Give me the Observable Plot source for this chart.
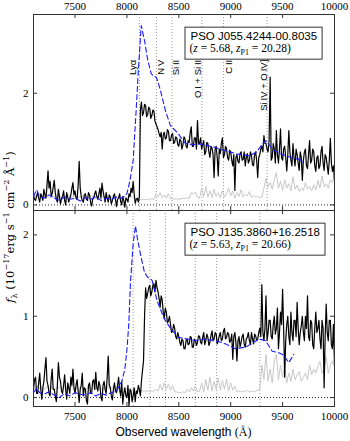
<!DOCTYPE html>
<html><head><meta charset="utf-8">
<script src="https://cdn.jsdelivr.net/npm/d3@7"></script>
<script src="https://cdn.jsdelivr.net/npm/@observablehq/plot@0.6"></script>
<style>
html,body{margin:0;padding:0;background:#fff;}
#wrap{position:relative;width:350px;height:441px;overflow:hidden;background:#fff;}
#wrap svg{position:absolute;left:0;overflow:visible;}
.ylab{position:absolute;left:11px;top:226.5px;transform:translate(-50%,-50%) rotate(-90deg);white-space:nowrap;font-family:"DejaVu Serif",serif;font-size:11.5px;line-height:1;}
.ylab sup,.ylab sub{font-size:70%;}
.xlab{position:absolute;left:183.5px;top:432px;transform:translate(-50%,-50%);white-space:nowrap;font-family:"Liberation Sans",sans-serif;font-size:12px;line-height:1;}
.xlab span{font-family:"Liberation Serif",serif;}
</style></head><body><div id="wrap"></div><script>
// ---------------- DATA ----------------
// 10 A sampling grid of the observed spectra
const wave10 = [
7100,7110,7120,7130,7140,7150,7160,7170,7180,7190,7200,7210,7220,7230,7240,7250,7260,7270,7280,7290,
7300,7310,7320,7330,7340,7350,7360,7370,7380,7390,7400,7410,7420,7430,7440,7450,7460,7470,7480,7490,
7500,7510,7520,7530,7540,7550,7560,7570,7580,7590,7600,7610,7620,7630,7640,7650,7660,7670,7680,7690,
7700,7710,7720,7730,7740,7750,7760,7770,7780,7790,7800,7810,7820,7830,7840,7850,7860,7870,7880,7890,
7900,7910,7920,7930,7940,7950,7960,7970,7980,7990,8000,8010,8020,8030,8040,8050,8060,8070,8080,8090,
8100,8110,8120,8130,8140,8150,8160,8170,8180,8190,8200,8210,8220,8230,8240,8250,8260,8270,8280,8290,
8300,8310,8320,8330,8340,8350,8360,8370,8380,8390,8400,8410,8420,8430,8440,8450,8460,8470,8480,8490,
8500,8510,8520,8530,8540,8550,8560,8570,8580,8590,8600,8610,8620,8630,8640,8650,8660,8670,8680,8690,
8700,8710,8720,8730,8740,8750,8760,8770,8780,8790,8800,8810,8820,8830,8840,8850,8860,8870,8880,8890,
8900,8910,8920,8930,8940,8950,8960,8970,8980,8990,9000,9010,9020,9030,9040,9050,9060,9070,9080,9090,
9100,9110,9120,9130,9140,9150,9160,9170,9180,9190,9200,9210,9220,9230,9240,9250,9260,9270,9280,9290,
9300,9310,9320,9330,9340,9350,9360,9370,9380,9390,9400,9410,9420,9430,9440,9450,9460,9470,9480,9490,
9500,9510,9520,9530,9540,9550,9560,9570,9580,9590,9600,9610,9620,9630,9640,9650,9660,9670,9680,9690,
9700,9710,9720,9730,9740,9750,9760,9770,9780,9790,9800,9810,9820,9830,9840,9850,9860,9870,9880,9890,
9900,9910,9920,9930,9940,9950,9960,9970,9980,9990,10000];
// 20 A sampling grid of the noise spectra
const wave20 = [
7100,7120,7140,7160,7180,7200,7220,7240,7260,7280,
7300,7320,7340,7360,7380,7400,7420,7440,7460,7480,
7500,7520,7540,7560,7580,7600,7620,7640,7660,7680,
7700,7720,7740,7760,7780,7800,7820,7840,7860,7880,
7900,7920,7940,7960,7980,8000,8020,8040,8060,8080,
8100,8120,8140,8160,8180,8200,8220,8240,8260,8280,
8300,8320,8340,8360,8380,8400,8420,8440,8460,8480,
8500,8520,8540,8560,8580,8600,8620,8640,8660,8680,
8700,8720,8740,8760,8780,8800,8820,8840,8860,8880,
8900,8920,8940,8960,8980,9000,9020,9040,9060,9080,
9100,9120,9140,9160,9180,9200,9220,9240,9260,9280,
9300,9320,9340,9360,9380,9400,9420,9440,9460,9480,
9500,9520,9540,9560,9580,9600,9620,9640,9660,9680,
9700,9720,9740,9760,9780,9800,9820,9840,9860,9880,
9900,9920,9940,9960,9980,10000];

// PSO J055.4244-00.8035 : observed flux (10 A)
const fluxTop = [
0.18,0.10,0.08,0.16,0.22,0.12,0.05,0.20,0.15,0.08,0.28,0.18,0.12,0.35,0.61,0.30,0.42,0.15,0.20,0.32,
0.44,0.22,0.10,0.05,0.28,0.15,0.02,0.12,0.15,0.25,0.08,0.00,0.22,0.14,0.05,0.12,0.18,0.30,0.40,0.18,
0.25,0.12,0.10,0.35,0.78,0.30,0.15,0.08,0.05,0.18,0.20,0.10,0.08,0.22,0.18,0.05,-0.02,0.10,0.12,0.20,
0.25,0.15,0.10,0.20,0.30,0.12,0.39,0.25,0.15,0.05,0.22,0.12,0.05,0.18,0.14,0.02,0.08,0.15,0.20,0.10,
-0.03,0.10,0.12,0.20,0.06,0.00,0.15,0.08,-0.04,0.12,0.10,0.05,0.20,0.15,0.30,0.22,0.42,0.20,0.03,0.10,
0.12,0.05,0.15,1.70,1.84,1.60,1.65,1.80,1.78,1.58,1.62,1.75,1.72,1.55,1.60,1.70,1.68,1.50,1.45,1.40,
1.35,1.28,1.22,1.30,1.00,1.25,1.30,1.18,1.20,1.35,1.32,1.15,1.15,1.25,1.28,1.10,1.12,1.22,1.20,1.08,
1.05,1.18,1.15,1.00,1.08,1.22,1.18,1.05,1.02,1.15,1.12,1.30,1.40,1.05,1.05,1.20,1.20,1.00,1.51,1.10,
1.10,1.20,1.00,1.08,1.15,0.90,0.95,1.12,1.10,0.95,0.85,1.05,1.02,0.90,0.49,1.00,1.05,0.85,0.52,1.00,
0.92,1.10,1.20,0.85,0.90,1.05,1.00,0.85,0.80,0.98,0.95,0.80,0.70,0.90,0.26,0.85,0.90,0.78,0.75,0.92,
0.95,0.80,0.82,0.95,0.70,0.85,0.92,0.75,0.80,0.95,0.88,0.72,0.70,0.90,0.95,0.80,0.49,0.85,0.90,1.00,
1.05,0.95,1.24,1.10,1.10,1.00,0.95,1.15,2.29,0.80,0.85,1.10,1.00,0.75,1.33,0.90,0.75,1.00,1.36,0.85,
0.80,1.00,1.05,0.85,0.61,0.90,1.33,0.95,0.80,0.70,1.10,0.85,0.70,1.00,0.90,0.75,0.62,0.95,0.85,0.44,
0.79,0.95,1.00,0.70,0.65,0.90,1.15,0.75,0.80,1.00,0.95,0.70,0.60,0.85,0.88,0.65,0.70,0.95,1.05,0.75,
0.62,0.90,0.85,0.70,0.55,0.80,1.19,0.75,0.60,0.70,0.44];
// PSO J055.4244-00.8035 : noise (20 A)
const noiseTop = [
0.15,0.12,0.18,0.14,0.16,0.13,0.17,0.15,0.12,0.16,
0.14,0.17,0.13,0.15,0.12,0.16,0.14,0.18,0.13,0.15,
0.16,0.13,0.15,0.12,0.17,0.14,0.15,0.13,0.16,0.14,
0.12,0.15,0.14,0.17,0.13,0.15,0.12,0.14,0.16,0.13,
0.15,0.12,0.14,0.13,0.15,0.12,0.14,0.16,0.13,0.11,
0.10,0.10,0.10,0.10,0.10,0.10,0.10,0.11,0.10,0.20,
0.14,0.22,0.13,0.18,0.12,0.20,0.11,0.11,0.10,0.11,
0.10,0.11,0.12,0.11,0.13,0.12,0.22,0.20,0.23,0.14,
0.12,0.30,0.15,0.33,0.14,0.25,0.13,0.28,0.15,0.22,
0.13,0.26,0.14,0.20,0.30,0.16,0.25,0.12,0.22,0.15,
0.27,0.14,0.20,0.16,0.24,0.13,0.17,0.14,0.15,0.13,
0.14,0.30,0.48,0.32,0.40,0.28,0.45,0.58,0.30,0.42,
0.26,0.45,0.30,0.38,0.25,0.50,0.28,0.35,0.24,0.30,
0.26,0.40,0.28,0.33,0.25,0.36,0.27,0.44,0.30,0.52,
0.32,0.38,0.30,0.45,0.40,0.55];
// PSO J055.4244-00.8035 : composite template
const tmplTopWave = [7100,7130,7160,7200,7250,7300,7350,7400,7450,7500,7550,7600,7650,7700,7750,7800,7850,7900,7950,8000,8030,8060,8087,8110,8138,8170,8200,8234,8260,8281,8300,8323,8371,8419,8484,8564,8640,8725,8800,8853,8930,9014,9058,9120,9183,9250,9318,9335,9360,9400,9460,9528,9600,9650,9689,9701];
const tmplTopFlux = [0.15,0.27,0.15,0.12,0.18,0.12,0.08,0.14,0.10,0.12,0.07,0.13,0.10,0.15,0.08,0.12,0.10,0.14,0.12,0.20,0.44,0.79,1.63,2.40,3.21,2.94,2.60,2.35,2.30,2.29,2.20,2.05,1.69,1.42,1.30,1.10,1.08,1.09,1.05,1.03,0.98,0.94,0.91,0.90,0.88,0.95,1.12,1.15,1.10,1.00,0.93,0.88,0.84,0.82,0.79,0.74];

// PSO J135.3860+16.2518 : observed flux (10 A)
const fluxBot = [
0.10,0.22,0.25,0.05,0.05,0.18,0.30,0.10,-0.02,0.12,0.20,0.35,0.49,0.20,0.15,0.05,0.02,0.22,0.35,0.10,
0.10,0.02,-0.05,0.15,0.43,0.25,0.20,0.08,0.05,0.15,0.28,0.10,-0.02,0.18,0.12,0.05,0.25,0.15,0.35,0.12,
0.05,0.15,0.22,0.08,-0.06,0.10,0.15,0.30,0.02,0.12,0.10,-0.04,-0.08,0.15,0.18,0.05,0.05,0.20,0.22,0.10,
0.31,0.12,0.08,0.20,0.15,0.00,-0.04,0.15,0.20,0.10,0.05,0.25,0.51,0.15,0.12,0.02,-0.03,0.10,0.18,0.08,
0.06,0.15,0.25,0.10,0.02,0.20,-0.08,0.05,0.12,0.02,0.00,0.15,-0.10,0.10,0.08,-0.05,0.02,0.12,-0.05,0.08,
0.05,0.15,0.10,0.02,0.20,0.33,0.45,1.00,1.35,1.22,1.28,1.35,1.38,1.25,1.30,1.38,1.40,1.30,1.44,1.35,
1.30,1.22,1.11,1.25,1.20,1.05,0.98,1.10,1.05,0.92,0.94,1.00,0.90,0.80,0.82,0.90,0.85,0.75,0.72,0.80,
0.75,0.68,0.64,0.72,0.70,0.60,0.60,0.70,0.72,0.65,0.66,0.75,0.74,0.62,0.62,0.72,0.70,0.64,0.68,0.76,
0.75,0.68,0.66,0.74,0.80,0.65,0.70,0.78,0.74,0.64,0.68,0.76,0.82,0.70,0.72,0.80,0.78,0.66,0.70,0.76,
0.80,0.70,0.72,0.82,0.85,0.72,0.74,0.80,0.78,0.68,0.70,0.78,0.47,0.75,0.80,0.68,0.45,0.70,0.75,0.62,
0.68,0.75,0.78,0.66,0.62,0.72,0.74,0.80,0.70,0.65,0.80,0.72,0.66,0.78,0.76,0.70,0.72,0.80,0.85,0.75,
1.39,0.80,0.70,0.85,1.25,0.70,0.80,0.95,0.95,0.75,0.72,0.90,1.00,0.78,0.85,1.10,0.60,0.80,1.05,0.90,
1.33,0.85,0.25,0.70,0.90,1.00,0.75,0.65,1.05,0.80,0.70,0.95,0.95,0.75,1.17,0.85,0.65,0.80,0.88,1.00,
0.80,0.70,1.00,0.85,1.25,0.75,0.70,0.95,0.92,0.65,0.60,0.85,1.05,0.80,0.85,0.95,0.72,0.60,0.95,0.85,
0.12,0.75,1.15,0.80,0.70,0.95,0.95,0.65,0.60,0.90,0.40];
// PSO J135.3860+16.2518 : noise (20 A)
const noiseBot = [
0.12,0.10,0.14,0.11,0.13,0.10,0.12,0.14,0.11,0.13,
0.10,0.12,0.11,0.14,0.10,0.13,0.12,0.10,0.14,0.11,
0.13,0.10,0.12,0.11,0.14,0.10,0.12,0.13,0.11,0.12,
0.10,0.13,0.11,0.12,0.10,0.14,0.11,0.12,0.13,0.10,
0.12,0.11,0.13,0.10,0.12,0.11,0.10,0.11,0.10,0.10,
0.08,0.08,0.08,0.08,0.08,0.08,0.08,0.08,0.08,0.10,
0.08,0.16,0.09,0.18,0.10,0.17,0.09,0.15,0.07,0.07,
0.06,0.06,0.07,0.06,0.10,0.07,0.12,0.08,0.14,0.07,
0.08,0.18,0.07,0.22,0.09,0.25,0.08,0.20,0.10,0.24,
0.09,0.21,0.10,0.23,0.08,0.18,0.09,0.14,0.07,0.08,
0.07,0.08,0.07,0.09,0.07,0.08,0.07,0.08,0.09,0.10,
0.40,0.22,0.53,0.20,0.35,0.18,0.45,0.53,0.22,0.40,
0.25,0.38,0.18,0.30,0.20,0.35,0.22,0.28,0.32,0.20,
0.25,0.30,0.22,0.40,0.28,0.35,0.30,0.38,0.45,0.30,
0.35,0.50,0.30,0.40,0.45,0.38];
// PSO J135.3860+16.2518 : composite template
const tmplBotWave = [7100,7130,7160,7200,7250,7300,7350,7400,7450,7500,7550,7600,7650,7700,7750,7800,7850,7900,7951,7980,7999,8018,8034,8060,8083,8099,8131,8169,8200,8227,8243,8291,8355,8420,8497,8580,8658,8750,8850,8950,9043,9142,9200,9271,9335,9400,9464,9510,9560,9608];
const tmplBotFlux = [0.06,0.11,0.06,0.04,0.07,0.03,0.00,0.05,0.02,0.06,0.04,0.03,0.06,0.02,0.05,0.03,0.06,0.08,0.20,0.35,0.57,0.90,1.41,1.89,2.11,1.97,1.76,1.54,1.48,1.46,1.44,1.19,0.98,0.85,0.74,0.72,0.70,0.72,0.70,0.66,0.60,0.62,0.66,0.72,0.70,0.57,0.55,0.52,0.43,0.53];

const objNames = ["PSO J055.4244-00.8035", "PSO J135.3860+16.2518"];
const objZ = [5.68, 5.63];
const objZP1 = ["20.28", "20.66"];

const lineNames = ["Ly\u03b1", "N\u2009V", "Si\u2009II", "O\u2009I + Si\u2009II", "C\u2009II", "Si\u2009IV + O\u2009IV]"];
const lineRest = [1215.67, 1240.14, 1262.59, 1306.0, 1337.0, 1399.8];

const xTicks = [7500, 8000, 8500, 9000, 9500, 10000];
const yTicksTop = [0, 2];
const yTicksBot = [0, 1, 2];

// ---------------- LAYOUT ----------------
const ML = 33, MR = 16, FW = 350 - ML - MR, FH = 196, TICK = 4;
const LABEL_Y = 2.6;
const labelDx = [-6, 4.5, 3.5, -4.5, 5, -3.5];

function panel({flux, noise, tW, tF, idx, yDomain, yTicks, top}) {
  const z = objZ[idx];
  const spec = wave10.map((w, i) => ({w, f: flux[i]}));
  const err = wave20.map((w, i) => ({w, f: noise[i]}));
  const tmpl = tW.map((w, i) => ({w, f: tF[i]}));
  const lines = lineRest.map((r, i) => ({i, w: r * (1 + z)}));
  const marks = [
    Plot.ruleX(lines, {x: "w", stroke: "#8c8c8c", strokeWidth: 0.9, strokeDasharray: "1,2"}),
    Plot.ruleY([0], {stroke: "#111", strokeWidth: 0.9, strokeDasharray: "1,2"}),
    Plot.line(err, {x: "w", y: "f", stroke: "#c8c8c8", strokeWidth: 1, clip: true}),
    Plot.line(spec, {x: "w", y: "f", stroke: "#000", strokeWidth: 1.2, clip: true}),
    Plot.line(tmpl, {x: "w", y: "f", stroke: "#1a1aff", strokeWidth: 1.1, strokeDasharray: "5,3", clip: true}),
  ];
  if (top) {
    lines.forEach((l, i) => {
      marks.push(Plot.text([l], {x: "w", y: () => LABEL_Y, text: d => lineNames[d.i], rotate: -90, textAnchor: "end", dx: labelDx[i], fontFamily: "Liberation Sans", fontSize: 9.5, fill: "#000"}));
    });
  }
  marks.push(
    Plot.text([objNames[idx]], {frameAnchor: "top-left", dx: 157, dy: 17, text: d => d, textAnchor: "start", fontFamily: "Liberation Sans", fontSize: 11.5, fill: "#000"}),
    Plot.text([`(z = ${z}, zP1 = ${objZP1[idx]})`], {frameAnchor: "top-left", dx: 156, dy: 29.5, text: d => d, textAnchor: "start", fontFamily: "Liberation Serif", fontSize: 11.5, fill: "#000"}),
    // inward ticks
    Plot.ruleX(xTicks, {x: d => d, insetTop: FH - TICK, stroke: "#333"}),
    Plot.ruleX(xTicks, {x: d => d, insetBottom: FH - TICK, stroke: "#333"}),
    Plot.ruleY(yTicks, {y: d => d, insetRight: FW - TICK, stroke: "#333"}),
    Plot.ruleY(yTicks, {y: d => d, insetLeft: FW - TICK, stroke: "#333"}),
    Plot.axisY({anchor: "left", ticks: yTicks, tickSize: 0, tickPadding: 5, tickFormat: d3.format("d"), fontFamily: "Liberation Serif", fontSize: 11, label: null}),
    Plot.frame({stroke: "#333", strokeWidth: 1})
  );
  if (top) marks.push(Plot.axisX({anchor: "top", ticks: xTicks, tickSize: 0, tickPadding: 5, tickFormat: d3.format("d"), fontFamily: "Liberation Serif", fontSize: 11, label: null}));
  else marks.push(Plot.axisX({anchor: "bottom", ticks: xTicks, tickSize: 0, tickPadding: 6, tickFormat: d3.format("d"), fontFamily: "Liberation Serif", fontSize: 11, label: null}));
  return Plot.plot({
    width: 350,
    height: top ? 212 : 233,
    marginTop: top ? 14 : 2,
    marginBottom: top ? 2 : 35,
    marginLeft: ML, marginRight: MR,
    x: {domain: [7100, 10000], label: null},
    y: {domain: yDomain, label: null},
    style: {background: "transparent", overflow: "visible", fontFamily: "Liberation Serif", fontSize: "11px"},
    marks
  });
}

const wrap = document.getElementById("wrap");
const p1 = panel({flux: fluxTop, noise: noiseTop, tW: tmplTopWave, tF: tmplTopFlux, idx: 0, yDomain: [-0.1, 3.41], yTicks: yTicksTop, top: true});
const p2 = panel({flux: fluxBot, noise: noiseBot, tW: tmplBotWave, tF: tmplBotFlux, idx: 1, yDomain: [-0.11, 2.30], yTicks: yTicksBot, top: false});
p1.style.top = "0px";
p2.style.top = "208px";
wrap.appendChild(p1);
wrap.appendChild(p2);

// axis titles (HTML)
const ylab = document.createElement("div");
ylab.className = "ylab";
ylab.innerHTML = "<i>f</i><sub>\u03bb</sub> (10<sup>\u221217</sup>erg s<sup>\u22121</sup> cm<sup>\u22122</sup> \u00c5<sup>\u22121</sup>)";
wrap.appendChild(ylab);
const xlab = document.createElement("div");
xlab.className = "xlab";
xlab.innerHTML = "Observed wavelength <span>(\u00c5)</span>";
wrap.appendChild(xlab);

// annotation: math formatting + box
[p1, p2].forEach((svg, k) => {
  const texts = Array.from(svg.querySelectorAll("text"));
  const t1 = texts.find(t => t.textContent === objNames[k]);
  const t2 = texts.find(t => t.textContent.startsWith("(z ="));
  if (t2) {
    t2.innerHTML = `(<tspan font-style="italic">z</tspan> = ${objZ[k]}, <tspan font-style="italic">z</tspan><tspan dy="2.5" font-size="8">P1</tspan><tspan dy="-2.5"> = ${objZP1[k]})</tspan>`;
  }
  if (t1 && t2) {
    const sr = svg.getBoundingClientRect();
    const a = t1.getBoundingClientRect(), b = t2.getBoundingClientRect();
    const x0 = Math.min(a.left, b.left) - sr.left - 4.5;
    const x1 = Math.max(a.right, b.right) - sr.left + 5;
    const y0 = Math.min(a.top, b.top) - sr.top - 2.5;
    const y1 = Math.max(a.bottom, b.bottom) - sr.top + 2.5;
    const rect = document.createElementNS("http://www.w3.org/2000/svg", "rect");
    rect.setAttribute("x", x0); rect.setAttribute("y", y0);
    rect.setAttribute("width", x1 - x0); rect.setAttribute("height", y1 - y0);
    rect.setAttribute("fill", "#fff"); rect.setAttribute("stroke", "#333"); rect.setAttribute("stroke-width", "1");
    const g = t1.closest("g");
    g.parentNode.insertBefore(rect, g);
  }
});
</script></body></html>
